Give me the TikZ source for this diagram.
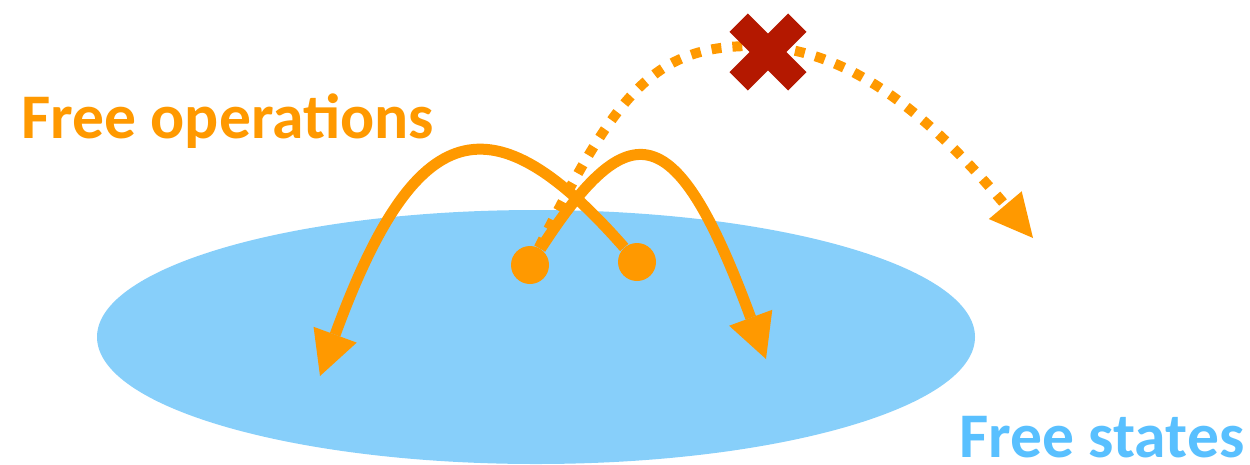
\documentclass[tikz,border=0pt]{standalone}
\usepackage{fontspec}
\setmainfont{Carlito}
\usetikzlibrary{arrows.meta}
\definecolor{oporange}{RGB}{255,153,0}
\definecolor{xred}{RGB}{180,24,0}
\definecolor{setblue}{RGB}{135,207,250}
\definecolor{labelblue}{RGB}{89,192,255}

\begin{document}
\begin{tikzpicture}[x=0.02cm,y=-0.02cm,
        freeop/.style={oporange, line width=0.22cm, -{Triangle[length=0.88cm,width=0.92cm,line width=0pt]}},
        blocked/.style={oporange, line width=0.2cm, dash pattern=on 0.2cm off 0.22cm, -{Triangle[length=0.86cm,width=0.86cm,line width=0pt]}},
        state/.style={circle, fill=oporange, minimum size=0.76cm, inner sep=0pt},
        bigtext/.style={font=\bfseries\fontsize{36.2}{40}\selectfont, inner sep=0pt, anchor=base west}]
    \useasboundingbox (0,0) rectangle (1250,464);
    \fill[setblue] (536,337) ellipse [x radius=439, y radius=127];
    \node[bigtext, oporange] (ops) at (21,138) {Free operations};
    \node[bigtext, labelblue] (states) at (959,457) {Free states};
    \node[state] (ldot) at (530,265) {};
    \node[state] (rdot) at (637,262) {};
    \coordinate (top) at (752,46);
    \coordinate (ltip) at (320,376);
    \coordinate (rtip) at (766,359);
    \coordinate (xtip) at (1033,238);
    \draw[blocked] (ldot) .. controls (615.5,96) and (652,46) .. (top) .. controls (852,46) and (935.5,122.5) .. (xtip);
    \begin{scope}[shift={(768,52)}]
        \fill[xred, rotate=45] (-41.5,-13) rectangle (41.5,13);
        \fill[xred, rotate=-45] (-41.5,-13) rectangle (41.5,13);
    \end{scope}
    \draw[freeop] (rdot) .. controls (492,97) and (416,114) .. (ltip);
    \draw[freeop] (ldot) .. controls (630,111) and (676,116) .. (rtip);
\end{tikzpicture}
\end{document}
